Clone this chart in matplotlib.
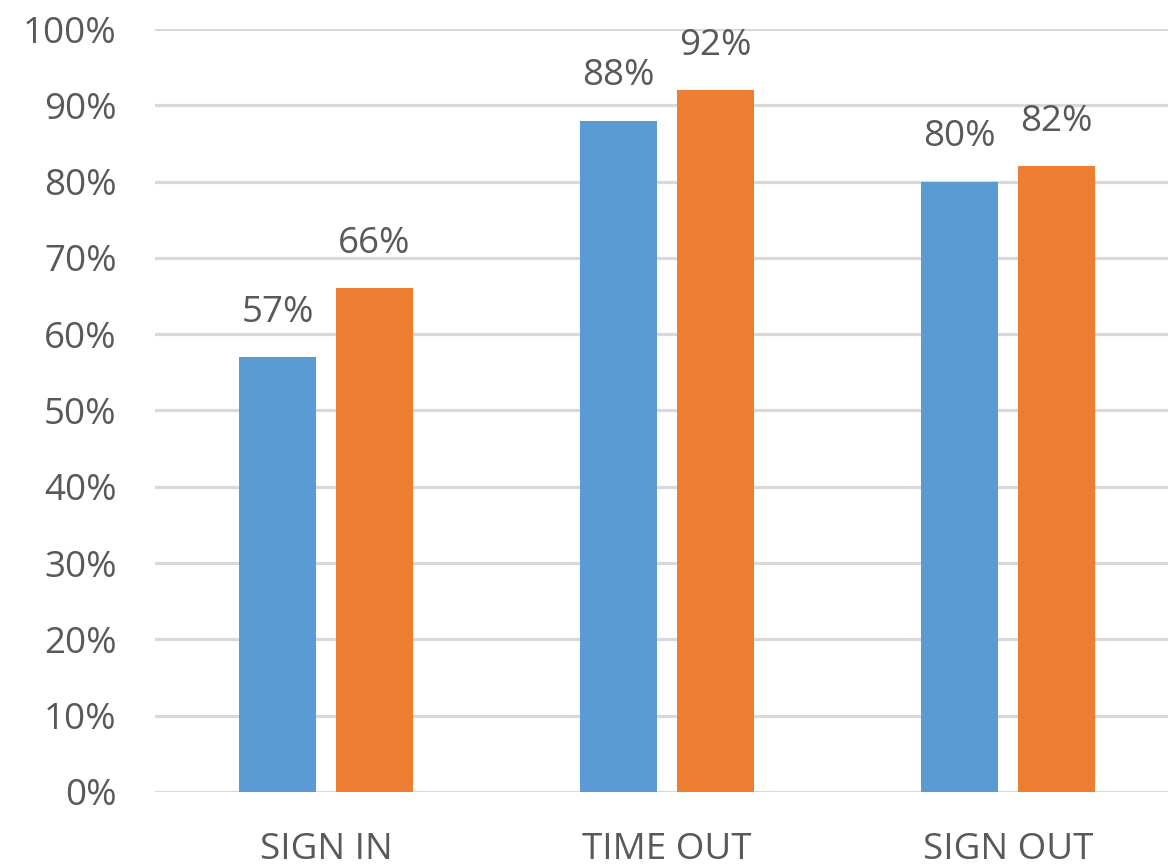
import numpy as np
import matplotlib.pyplot as plt

plt.rcParams['font.family'] = ['Open Sans', 'DejaVu Sans']

categories = ['SIGN IN', 'TIME OUT', 'SIGN OUT']
series_a = [57, 88, 80]
series_b = [66, 92, 82]
y_ticks = [0, 10, 20, 30, 40, 50, 60, 70, 80, 90, 100]

blue = '#5B9BD5'
orange = '#ED7D31'
text_gray = '#595959'
grid_gray = '#D9D9D9'

fig = plt.figure(figsize=(11.68, 8.66), dpi=100)
# plot area runs slightly past the right edge of the canvas
ax = fig.add_axes([0.1331, 0.0855, 0.876, 0.881])

x = np.arange(len(categories))
width = 0.226
offset = 0.142

bars_a = ax.bar(x - offset, series_a, width, color=blue, zorder=3)
bars_b = ax.bar(x + offset, series_b, width, color=orange, zorder=3)

for bars, vals in ((bars_a, series_a), (bars_b, series_b)):
    for b, v in zip(bars, vals):
        ax.annotate(f'{v}%', (b.get_x() + b.get_width() / 2, v),
                    xytext=(0, 19), textcoords='offset points',
                    ha='center', va='bottom', fontsize=26.5, color=text_gray)

ax.set_xlim(-0.5, 2.5)
ax.set_ylim(0, 100)
ax.set_yticks(y_ticks)
ax.set_yticklabels([f'{t}%' for t in y_ticks])
ax.set_xticks(x)
ax.set_xticklabels(categories)
ax.tick_params(axis='both', length=0, labelsize=26.5, labelcolor=text_gray)
ax.tick_params(axis='y', pad=28)
ax.tick_params(axis='x', pad=29)

ax.grid(axis='y', color=grid_gray, linewidth=2.3, zorder=0)
ax.set_axisbelow(True)
for s in ax.spines.values():
    s.set_visible(False)

fig.savefig('out.png', dpi=100)
